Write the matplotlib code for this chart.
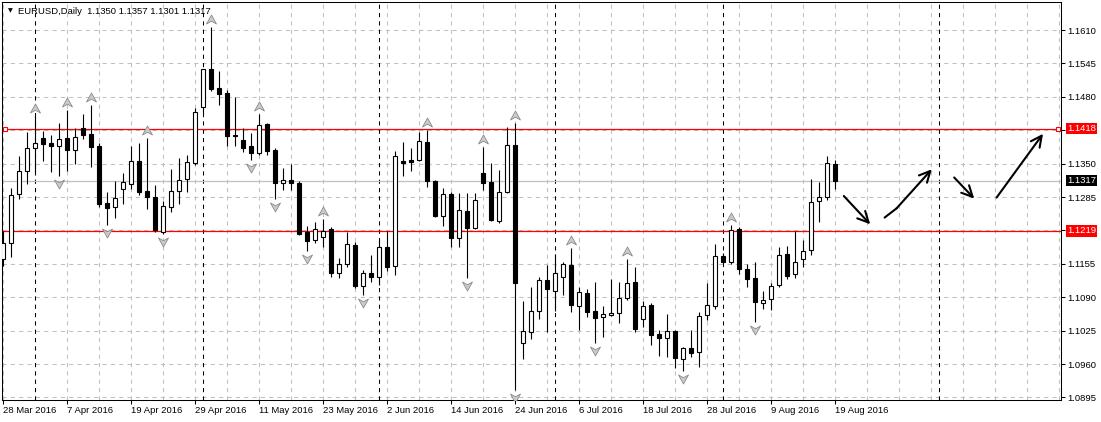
import matplotlib
matplotlib.use("Agg")
import matplotlib.pyplot as plt
from matplotlib.path import Path
from matplotlib.transforms import offset_copy, blended_transform_factory

plt.rcParams['font.family'] = ['Liberation Sans', 'DejaVu Sans']

# EURUSD daily candles, 28 Mar 2016 .. 19 Aug 2016
opens = [1.1164, 1.1195, 1.1290, 1.1336, 1.1380, 1.1399, 1.1390, 1.1384, 1.1399, 1.1376,
         1.1419, 1.1408, 1.1384, 1.1273, 1.1266, 1.1301, 1.1311, 1.1356, 1.1297, 1.1285,
         1.1216, 1.1265, 1.1296, 1.1321, 1.1351, 1.1460, 1.1534, 1.1497, 1.1487, 1.1405,
         1.1396, 1.1384, 1.1371, 1.1427, 1.1377, 1.1312, 1.1319, 1.1312, 1.1216, 1.1201,
         1.1207, 1.1222, 1.1138, 1.1154, 1.1191, 1.1112, 1.1137, 1.1129, 1.1188, 1.1151,
         1.1355, 1.1357, 1.1357, 1.1392, 1.1316, 1.1249, 1.1290, 1.1205, 1.1258, 1.1224,
         1.1332, 1.1315, 1.1239, 1.1294, 1.1386, 1.1001, 1.1022, 1.1064, 1.1124, 1.1103,
         1.1129, 1.1153, 1.1072, 1.1098, 1.1063, 1.1051, 1.1055, 1.1059, 1.1088, 1.1119,
         1.1047, 1.1074, 1.1018, 1.1010, 1.1024, 1.0970, 1.0991, 1.0983, 1.1056, 1.1072,
         1.1171, 1.1159, 1.1222, 1.1145, 1.1127, 1.1079, 1.1086, 1.1113, 1.1174, 1.1135,
         1.1164, 1.1181, 1.1277, 1.1285, 1.1350]
highs = [1.1219, 1.1302, 1.1365, 1.1411, 1.1443, 1.1413, 1.1406, 1.1430, 1.1454, 1.1419,
         1.1447, 1.1464, 1.1391, 1.1295, 1.1316, 1.1331, 1.1384, 1.1390, 1.1400, 1.1309,
         1.1278, 1.1340, 1.1360, 1.1367, 1.1458, 1.1535, 1.1615, 1.1530, 1.1493, 1.1480,
         1.1420, 1.1410, 1.1447, 1.1430, 1.1380, 1.1341, 1.1349, 1.1316, 1.1228, 1.1236,
         1.1242, 1.1227, 1.1166, 1.1216, 1.1198, 1.1143, 1.1172, 1.1201, 1.1218, 1.1375,
         1.1393, 1.1380, 1.1412, 1.1415, 1.1318, 1.1302, 1.1295, 1.1292, 1.1292, 1.1292,
         1.1383, 1.1351, 1.1338, 1.1422, 1.1430, 1.1083, 1.1110, 1.1130, 1.1153, 1.1174,
         1.1159, 1.1185, 1.1109, 1.1106, 1.1119, 1.1073, 1.1125, 1.1120, 1.1164, 1.1148,
         1.1083, 1.1078, 1.1026, 1.1057, 1.1026, 1.0994, 1.1026, 1.1061, 1.1117, 1.1193,
         1.1176, 1.1231, 1.1226, 1.1154, 1.1158, 1.1102, 1.1118, 1.1188, 1.1190, 1.1219,
         1.1201, 1.1320, 1.1314, 1.1364, 1.1357]
lows = [1.1151, 1.1168, 1.1282, 1.1310, 1.1334, 1.1356, 1.1334, 1.1325, 1.1336, 1.1349,
        1.1398, 1.1344, 1.1265, 1.1231, 1.1245, 1.1271, 1.1300, 1.1289, 1.1262, 1.1216,
        1.1214, 1.1255, 1.1271, 1.1294, 1.1348, 1.1448, 1.1492, 1.1464, 1.1385, 1.1384,
        1.1373, 1.1358, 1.1367, 1.1367, 1.1281, 1.1299, 1.1299, 1.1212, 1.1179, 1.1195,
        1.1188, 1.1130, 1.1127, 1.1148, 1.1107, 1.1094, 1.1120, 1.1114, 1.1142, 1.1133,
        1.1325, 1.1336, 1.1355, 1.1304, 1.1247, 1.1229, 1.1187, 1.1188, 1.1128, 1.1222,
        1.1299, 1.1239, 1.1235, 1.1293, 1.0910, 1.0969, 1.1008, 1.1047, 1.1022, 1.1064,
        1.1094, 1.1061, 1.1026, 1.1051, 1.1001, 1.1013, 1.1053, 1.1039, 1.1085, 1.1023,
        1.1033, 1.0998, 1.0976, 1.0974, 1.0952, 1.0947, 1.0974, 1.0955, 1.1046, 1.1068,
        1.1157, 1.1155, 1.1136, 1.1109, 1.1041, 1.1068, 1.1065, 1.1109, 1.1126, 1.1127,
        1.1149, 1.1173, 1.1237, 1.1280, 1.1301]
closes = [1.1195, 1.1288, 1.1336, 1.1380, 1.1390, 1.1389, 1.1384, 1.1397, 1.1377, 1.1401,
          1.1406, 1.1383, 1.1271, 1.1264, 1.1283, 1.1314, 1.1356, 1.1294, 1.1286, 1.1221,
          1.1267, 1.1296, 1.1319, 1.1353, 1.1451, 1.1534, 1.1495, 1.1486, 1.1404, 1.1403,
          1.1381, 1.1370, 1.1425, 1.1375, 1.1312, 1.1318, 1.1313, 1.1214, 1.1200, 1.1222,
          1.1218, 1.1138, 1.1155, 1.1193, 1.1112, 1.1137, 1.1130, 1.1187, 1.1149, 1.1364,
          1.1352, 1.1353, 1.1394, 1.1317, 1.1248, 1.1290, 1.1205, 1.1260, 1.1224, 1.1279,
          1.1313, 1.1240, 1.1294, 1.1386, 1.1118, 1.1024, 1.1063, 1.1124, 1.1106, 1.1137,
          1.1155, 1.1074, 1.1100, 1.1061, 1.1049, 1.1057, 1.1059, 1.1088, 1.1117, 1.1028,
          1.1072, 1.1016, 1.1010, 1.1024, 1.0971, 1.0991, 1.0981, 1.1054, 1.1074, 1.1170,
          1.1159, 1.1220, 1.1144, 1.1125, 1.1080, 1.1084, 1.1111, 1.1172, 1.1131, 1.1158,
          1.1180, 1.1275, 1.1286, 1.1351, 1.1317]

# bar index of each date label (every 8 bars)
date_bars = [0, 8, 16, 24, 32, 40, 48, 56, 64, 72, 80, 88, 96, 104]
date_labels = ['28 Mar 2016', '7 Apr 2016', '19 Apr 2016', '29 Apr 2016', '11 May 2016',
               '23 May 2016', '2 Jun 2016', '14 Jun 2016', '24 Jun 2016', '6 Jul 2016',
               '18 Jul 2016', '28 Jul 2016', '9 Aug 2016', '19 Aug 2016']
# period separators (first bar of each month)
separator_bars = [4, 25, 47, 69, 90, 117]

price_ticks = [1.0895, 1.0960, 1.1025, 1.1090, 1.1155, 1.1220, 1.1285, 1.1350,
               1.1415, 1.1480, 1.1545, 1.1610]

fractal_up = [4, 8, 11, 18, 26, 32, 40, 53, 60, 64, 71, 78, 91]
fractal_down = [7, 13, 20, 31, 34, 38, 45, 58, 64, 74, 85, 94]

resistance = 1.1418
support = 1.1219
bid = 1.1317

# hand-drawn forecast arrows (bar, price)
arrows = [
    [(105.1, 1.1287), (108.4, 1.1232)],
    [(110.2, 1.1245), (111.7, 1.1263), (116.1, 1.1339)],
    [(118.9, 1.1323), (121.4, 1.1282)],
    [(124.2, 1.1284), (130.0, 1.1408)],
]

fig = plt.figure(figsize=(11.01, 4.22), dpi=100)
ax = fig.add_axes([2 / 1101, 22 / 422, 1059 / 1101, 398.5 / 422])
ax.set_xlim(-0.125, 132.25)
ax.set_ylim(1.0890, 1.16655)

grid_kw = dict(color='#c0c0c0', lw=0.75, dashes=(4, 4), zorder=1)
for b in range(0, 133, 4):
    ax.axvline(b, **grid_kw)
for p in price_ticks:
    ax.axhline(p, **grid_kw)
for b in separator_bars:
    ax.axvline(b, color='black', lw=0.75, dashes=(4, 4), zorder=1.5)

ax.axhline(bid, color='#c0c0c0', lw=0.9, zorder=1.6)
ax.axhline(resistance, color='red', lw=0.9, zorder=1.7)
ax.axhline(support, color='red', lw=0.9, zorder=1.7)

# candles
xs = list(range(len(opens)))
bottoms = [min(o, c) for o, c in zip(opens, closes)]
heights = [abs(c - o) for o, c in zip(opens, closes)]
faces = ['white' if c >= o else 'black' for o, c in zip(opens, closes)]
ax.vlines(xs, lows, highs, color='black', lw=0.8, zorder=3)
ax.bar(xs, heights, 0.6, bottoms, color=faces, edgecolor='black', lw=0.8, zorder=4)

# Bill Williams fractals
up_path = Path([(0, 0.9), (1, -0.9), (0, -0.35), (-1, -0.9), (0, 0.9)],
               [Path.MOVETO, Path.LINETO, Path.LINETO, Path.LINETO, Path.CLOSEPOLY])
down_path = Path([(0, -0.9), (1, 0.9), (0, 0.35), (-1, 0.9), (0, -0.9)],
                 [Path.MOVETO, Path.LINETO, Path.LINETO, Path.LINETO, Path.CLOSEPOLY])
up_tr = offset_copy(ax.transData, fig=fig, y=8, units='dots')
down_tr = offset_copy(ax.transData, fig=fig, y=-8, units='dots')
frac_kw = dict(ls='none', ms=7.2, mfc='#c8ccd0', mec='#8a8a8a', mew=0.6, zorder=5)
ax.plot(fractal_up, [highs[i] for i in fractal_up], marker=up_path, transform=up_tr, **frac_kw)
ax.plot(fractal_down, [lows[i] for i in fractal_down], marker=down_path, transform=down_tr, **frac_kw)

# forecast arrows
for pts in arrows:
    px = [p[0] for p in pts]
    py = [p[1] for p in pts]
    if len(pts) > 2:
        ax.plot(px[:-1], py[:-1], color='black', lw=1.5, zorder=6, solid_capstyle='round')
    ax.annotate('', xy=pts[-1], xytext=pts[-2],
                arrowprops=dict(arrowstyle='->,head_length=0.6,head_width=0.3',
                                color='black', lw=1.5, shrinkA=0, shrinkB=0,
                                mutation_scale=13), zorder=6)

# axes
for s in ax.spines.values():
    s.set_color('black')
    s.set_linewidth(0.75)
ax.yaxis.tick_right()
ax.set_yticks(price_ticks)
# the two levels hidden under the line boxes get no label
hidden = {1.1415, 1.1220}
ax.set_yticklabels(['' if p in hidden else f'{p:.4f}' for p in price_ticks])
ax.set_xticks(date_bars)
ax.set_xticklabels(date_labels)
for t in ax.get_xticklabels():
    t.set_horizontalalignment('left')
ax.tick_params(axis='both', direction='out', length=3, width=0.75, labelsize=6.8,
               colors='black')
ax.tick_params(axis='y', pad=1.5)
ax.tick_params(axis='x', pad=1.5)

# price level boxes on the right scale
trans = blended_transform_factory(ax.transAxes, ax.transData)
for level, bg in [(resistance, 'red'), (bid, 'black'), (support, 'red')]:
    ax.text(1.0058, level, f'{level:.4f}', transform=trans, color='white', fontsize=6.8,
            va='center', ha='left', clip_on=False, zorder=10,
            bbox=dict(boxstyle='square,pad=0.12', fc=bg, ec='none'))
ax.plot([0.003, 0.997], [resistance, resistance], transform=trans, ls='none', marker='s',
        ms=3.2, mfc='white', mec='red', mew=0.8, clip_on=False, zorder=8)

# chart header
ax.text(0.0052, 0.976, '\u25bc', transform=ax.transAxes, fontsize=4.5, va='center',
        ha='left', color='black', family='DejaVu Sans', zorder=10)
ax.text(0.0152, 0.975, 'EURUSD,Daily  1.1350 1.1357 1.1301 1.1317', transform=ax.transAxes,
        fontsize=6.8, va='center', ha='left', color='black', zorder=10)

fig.savefig('out.png', dpi=100)
